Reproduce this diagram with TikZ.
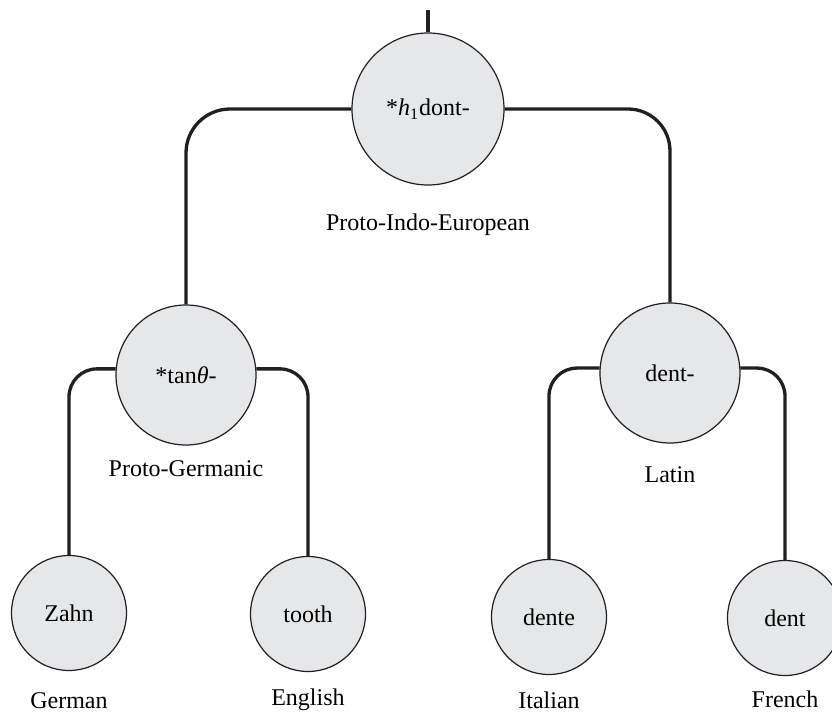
\documentclass[tikz,border=0pt]{standalone}
\usepackage{fontspec}
\setmainfont{Liberation Serif}
\usetikzlibrary{positioning}
\definecolor{circfill}{RGB}{230,231,233}
\definecolor{inkline}{RGB}{35,31,32}

\begin{document}
\begin{tikzpicture}[
  x=0.5pt, y=-0.5pt,
  word/.style={circle, draw=inkline, line width=0.6pt, fill=circfill, inner sep=0pt, font=\fontsize{12}{14}\selectfont},
  rootword/.style={word, minimum size=76pt},
  midword/.style={word, minimum size=70pt},
  leafword/.style={word, minimum size=57.5pt},
  lang/.style={font=\fontsize{12}{14}\selectfont, text height=8.4pt, text depth=3pt, inner sep=0pt},
  branch/.style={draw=inkline, line width=1.65pt}
]
\useasboundingbox (0,0) rectangle (832,713);

\node[rootword] (pie) at (428,109) {*\textit{h}\textsubscript{1}dont-};
\node[midword] (pg) at (186,375) {*tan\textit{θ}-};
\node[midword] (lat) at (670,373) {dent-};
\node[leafword] (zahn) at (69,613) {Zahn};
\node[leafword] (tooth) at (308,614) {tooth};
\node[leafword] (dente) at (549,617) {dente};
\node[leafword] (dent) at (785,618) {dent};

\node[lang, below of=pie, node distance=58pt] (pielab) {Proto-Indo-European};
\node[lang, below of=pg, node distance=48pt] (pglab) {Proto-Germanic};
\node[lang, below of=lat, node distance=52pt] (latlab) {Latin};
\node[lang, below of=zahn, node distance=45pt] (delab) {German};
\node[lang, below of=tooth, node distance=43pt] (enlab) {English};
\node[lang, below of=dente, node distance=43pt] (itlab) {Italian};
\node[lang, below of=dent, node distance=42pt] (frlab) {French};

\coordinate (stem) at (428,10);
\draw[branch] (stem) -- (pie.north);
\draw[branch, rounded corners=22pt] (pie.west) -| (pg.north);
\draw[branch, rounded corners=21pt] (pie.east) -| (lat.north);
\draw[branch, rounded corners=14pt] (pg.175) -| (zahn.north);
\draw[branch, rounded corners=14pt] (pg.5) -| (tooth.north);
\draw[branch, rounded corners=14pt] (lat.176) -| (dente.north);
\draw[branch, rounded corners=14pt] (lat.4) -| (dent.north);
\end{tikzpicture}
\end{document}
